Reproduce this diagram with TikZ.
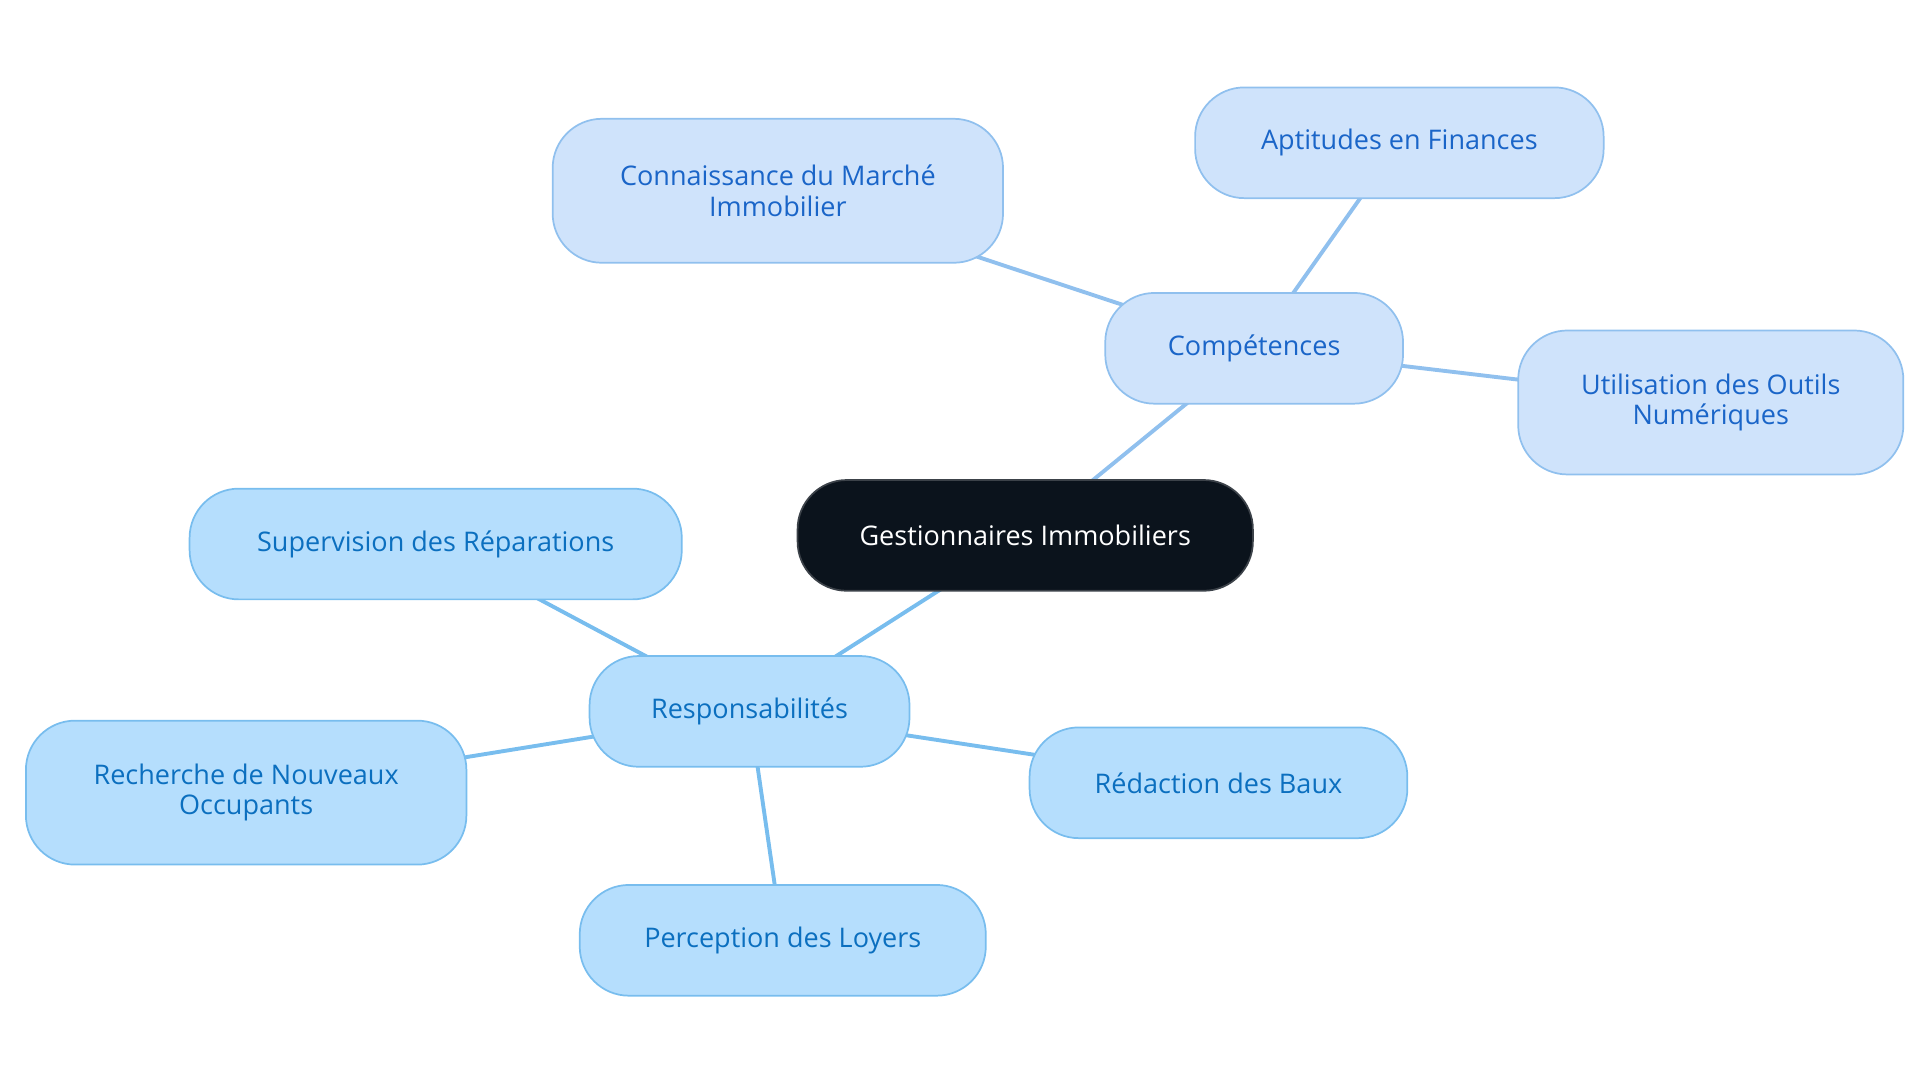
\documentclass[tikz,border=0pt]{standalone}
\usepackage{fontspec}
\setmainfont{Open Sans}
\usetikzlibrary{backgrounds}
\definecolor{rootfill}{HTML}{0B131C}
\definecolor{compfill}{HTML}{CFE3FB}
\definecolor{compline}{HTML}{90C0EE}
\definecolor{comptext}{HTML}{1A65C8}
\definecolor{respfill}{HTML}{B5DEFD}
\definecolor{respline}{HTML}{78BDEE}
\definecolor{resptext}{HTML}{0B6FBF}
\tikzset{
  box/.style={rounded corners=0.8cm, align=center, inner sep=0pt,
    font=\fontsize{12.5}{14}\selectfont, line width=0.8pt},
  rootbox/.style={box, fill=rootfill, draw=rootfill!80!white, text=white},
  compbox/.style={box, fill=compfill, draw=compline, text=comptext},
  respbox/.style={box, fill=respfill, draw=respline, text=resptext},
  complink/.style={compline, line width=1.8pt},
  resplink/.style={respline, line width=1.8pt}
}
\begin{document}
\begin{tikzpicture}[x=0.02cm,y=-0.02cm]
        \useasboundingbox (0,0) rectangle (1560,880);
        \node[rootbox, minimum width=7.4cm, minimum height=1.8cm] (root) at (833,435) {Gestionnaires Immobiliers};
        \node[compbox, minimum width=4.84cm, minimum height=1.8cm] (comp) at (1019,283) {Compétences};
        \node[compbox, minimum width=6.64cm, minimum height=1.8cm] (fin) at (1137,116) {Aptitudes en Finances};
        \node[compbox, minimum width=7.32cm, minimum height=2.34cm] (march) at (632,155) {Connaissance du Marché\\Immobilier};
        \node[compbox, minimum width=6.26cm, minimum height=2.34cm] (outil) at (1390,327) {Utilisation des Outils\\Numériques};
        \node[respbox, minimum width=5.2cm, minimum height=1.8cm] (resp) at (609,578) {Responsabilités};
        \node[respbox, minimum width=8cm, minimum height=1.8cm] (repar) at (354,442) {Supervision des Réparations};
        \node[respbox, minimum width=7.16cm, minimum height=2.34cm] (occup) at (200,644) {Recherche de Nouveaux\\Occupants};
        \node[respbox, minimum width=6.14cm, minimum height=1.8cm] (baux) at (990,636) {Rédaction des Baux};
        \node[respbox, minimum width=6.6cm, minimum height=1.8cm] (loyer) at (636,764) {Perception des Loyers};
        \begin{pgfonlayer}{background}
        \draw[complink] (root.center) -- (comp.center);
        \draw[complink] (comp.center) -- (fin.center);
        \draw[complink] (comp.center) -- (march.center);
        \draw[complink] (comp.center) -- (outil.center);
        \draw[resplink] (root.center) -- (resp.center);
        \draw[resplink] (resp.center) -- (repar.center);
        \draw[resplink] (resp.center) -- (occup.center);
        \draw[resplink] (resp.center) -- (baux.center);
        \draw[resplink] (resp.center) -- (loyer.center);
        \end{pgfonlayer}
\end{tikzpicture}
\end{document}
